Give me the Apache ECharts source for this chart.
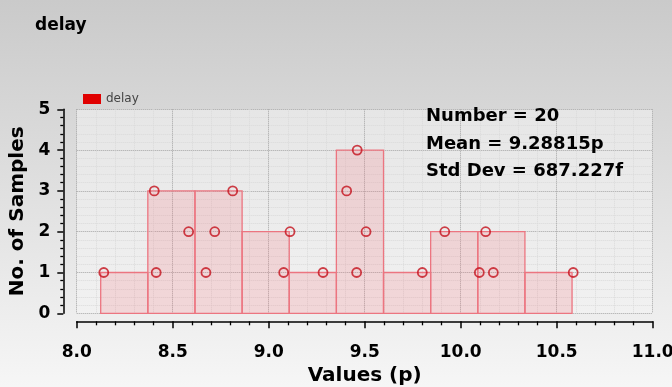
<!DOCTYPE html>
<html>
<head>
<meta charset="utf-8">
<script src="https://cdn.jsdelivr.net/npm/echarts@6/dist/echarts.min.js"></script>
<style>html,body{margin:0;padding:0;}#c{width:672px;height:387px;}</style>
</head>
<body>
<div id="c"></div>
<script>
// Histogram bins (values in p)
const binEdges = [8.125, 8.3705, 8.616, 8.8615, 9.107, 9.3525, 9.598, 9.8435, 10.089, 10.3345, 10.58];
const binCounts = [1, 3, 3, 2, 1, 4, 1, 2, 2, 1];
// Individual samples: value (p) and their stacked index within the bin
const sampleValues = [8.141, 8.404, 8.414, 8.583, 8.673, 8.719, 8.8125, 9.078, 9.111, 9.283,
                      9.406, 9.458, 9.461, 9.507, 9.800, 9.917, 10.097, 10.130, 10.170, 10.586];
const sampleRanks  = [1, 3, 1, 2, 1, 2, 3, 1, 2, 1,
                      3, 1, 4, 2, 1, 2, 1, 2, 1, 1];
const xTicks = ['8.0', '8.5', '9.0', '9.5', '10.0', '10.5', '11.0'];
const statLines = ['Number = 20', 'Mean = 9.28815p', 'Std Dev = 687.227f'];

const histData = binCounts.map((c, i) => [binEdges[i], binEdges[i + 1], c]);
const scatterData = sampleValues.map((v, i) => [v, sampleRanks[i]]);

const FONT = 'DejaVu Sans';
const chart = echarts.init(document.getElementById('c'), null, {renderer: 'canvas'});
chart.setOption({
  animation: false,
  backgroundColor: {
    type: 'linear', x: 0, y: 0, x2: 0, y2: 1,
    colorStops: [{offset: 0, color: '#cacaca'}, {offset: 1, color: '#f6f6f6'}]
  },
  title: {
    text: 'delay', left: 30, top: 12,
    textStyle: {fontFamily: FONT, fontWeight: 'bold', fontSize: 17, color: '#000'}
  },
  legend: {
    left: 78, top: 88, itemWidth: 18, itemHeight: 10, itemGap: 6,
    data: [{name: 'delay', icon: 'rect', itemStyle: {color: '#e00000'}}],
    textStyle: {fontFamily: FONT, fontSize: 12, color: '#444'}
  },
  graphic: [{
    type: 'text', left: 426, top: 103, silent: true, z: 10,
    style: {
      text: statLines.join('\n'), lineHeight: 27.5,
      fontFamily: FONT, fontWeight: 'bold', fontSize: 18, fill: '#000'
    }
  }],
  grid: {
    left: 76.7, right: 19.3, top: 109.3, bottom: 73.7,
    outerBoundsMode: 'none', containLabel: false,
    show: true, borderWidth: 0,
    backgroundColor: {
      type: 'linear', x: 0, y: 0, x2: 0, y2: 1,
      colorStops: [{offset: 0, color: '#e6e6e6'}, {offset: 1, color: '#f1f1f1'}]
    }
  },
  xAxis: {
    type: 'value', min: 8, max: 11, interval: 0.5, offset: 8,
    name: 'Values (p)', nameLocation: 'middle', nameGap: 40,
    nameTextStyle: {fontFamily: FONT, fontWeight: 'bold', fontSize: 20, color: '#000'},
    axisLine: {show: true, onZero: false, lineStyle: {color: '#000', width: 1.5}},
    axisTick: {show: true, length: 7, lineStyle: {color: '#000', width: 1.5}},
    minorTick: {show: true, splitNumber: 5, length: 4, lineStyle: {color: '#000', width: 1.3}},
    axisLabel: {
      margin: 23, fontFamily: FONT, fontWeight: 'bold', fontSize: 17, color: '#000',
      formatter: (v) => xTicks[Math.round((v - 8) / 0.5)]
    },
    splitLine: {show: true, lineStyle: {color: '#a4a4a4', type: 'dotted', width: 1}},
    minorSplitLine: {show: true, lineStyle: {color: '#dadada', type: 'dotted', width: 1}}
  },
  yAxis: {
    type: 'value', min: 0, max: 5, interval: 1, offset: 13.4,
    name: 'No. of Samples', nameLocation: 'middle', nameGap: 29, nameRotate: 90,
    nameTextStyle: {fontFamily: FONT, fontWeight: 'bold', fontSize: 20, color: '#000'},
    axisLine: {show: true, onZero: false, lineStyle: {color: '#000', width: 1.5}},
    axisTick: {show: true, length: 6, lineStyle: {color: '#000', width: 1.5}},
    minorTick: {show: true, splitNumber: 5, length: 3, lineStyle: {color: '#000', width: 1.3}},
    axisLabel: {margin: 13, fontFamily: FONT, fontWeight: 'bold', fontSize: 17, color: '#000'},
    splitLine: {show: true, lineStyle: {color: '#a4a4a4', type: 'dotted', width: 1}},
    minorSplitLine: {show: true, lineStyle: {color: '#dadada', type: 'dotted', width: 1}}
  },
  series: [{
    name: 'delay', type: 'custom',
    itemStyle: {color: '#e00000'},
    encode: {x: [0, 1], y: 2},
    data: histData,
    renderItem: function (params, api) {
      const p0 = api.coord([api.value(0), api.value(2)]);
      const p1 = api.coord([api.value(1), 0]);
      return {
        type: 'rect',
        shape: {x: p0[0], y: p0[1], width: p1[0] - p0[0], height: p1[1] - p0[1]},
        style: {fill: 'rgba(245,110,120,0.2)', stroke: '#ec7580', lineWidth: 1.3}
      };
    }
  }, {
    name: 'samples', type: 'scatter',
    symbol: 'circle', symbolSize: 9,
    itemStyle: {color: 'rgba(255,255,255,0)', borderColor: '#c4101c', borderWidth: 1.8},
    data: scatterData, z: 5
  }]
});
</script>
</body>
</html>
